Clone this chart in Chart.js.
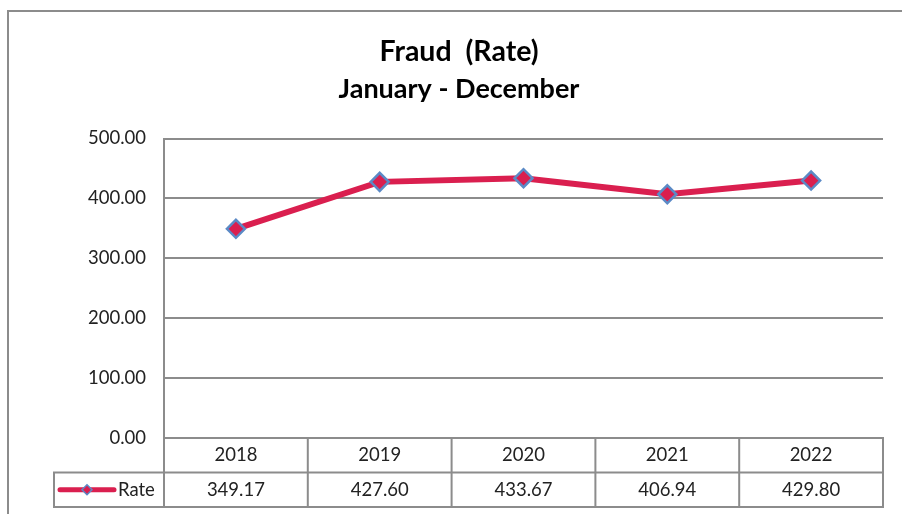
<!DOCTYPE html>
<html>
<head>
<meta charset="utf-8">
<title>Fraud (Rate)</title>
<script src="https://cdn.jsdelivr.net/npm/chart.js@4/dist/chart.umd.min.js"></script>
<style>
  html, body { margin: 0; padding: 0; background: #fff; }
  canvas { display: block; }
</style>
</head>
<body>
<canvas id="fraudChart" width="902" height="514"></canvas>
<script>
// chart data
const years = ['2018', '2019', '2020', '2021', '2022'];
const rates = [349.17, 427.60, 433.67, 406.94, 429.80];
const yTicks = [0, 100, 200, 300, 400, 500];
const seriesName = 'Rate';
const titleText = 'Fraud  (Rate)';
const subtitleText = 'January - December';

// look
const lineColor = '#da1f4f';
const markerBorder = '#5b8ac6';
const gridColor = '#8c8c8c';
const textColor = '#222';
const fontFamily = 'Lato, "Open Sans", sans-serif';

// outer frame like the spreadsheet chart border
const chartFrame = {
  id: 'chartFrame',
  beforeDraw: (chart) => {
    const { ctx } = chart;
    ctx.save();
    ctx.fillStyle = '#fff';
    ctx.fillRect(0, 0, chart.width, chart.height);
    ctx.strokeStyle = gridColor;
    ctx.lineWidth = 2;
    ctx.strokeRect(8, 11, chart.width + 20, chart.height + 20);
    ctx.restore();
  },
};

// data table under the plot (header row = x tick labels)
const dataTable = {
  id: 'dataTable',
  afterDraw: (chart) => {
    const { ctx, chartArea } = chart;
    const x = chart.scales.x;
    const top = chartArea.bottom;
    const rowH = 34.5;
    const legendLeft = 54;
    const colW = (chartArea.right - chartArea.left) / years.length;

    ctx.save();
    ctx.strokeStyle = gridColor;
    ctx.lineWidth = 2;
    ctx.beginPath();
    // row lines
    ctx.moveTo(legendLeft, top + rowH);
    ctx.lineTo(chartArea.right, top + rowH);
    ctx.moveTo(legendLeft, top + rowH * 2);
    ctx.lineTo(chartArea.right, top + rowH * 2);
    // column lines
    for (let i = 0; i <= years.length; i++) {
      const cx = chartArea.left + colW * i;
      ctx.moveTo(cx, top - 1);
      ctx.lineTo(cx, top + rowH * 2 + 1);
    }
    ctx.moveTo(legendLeft, top + rowH - 1);
    ctx.lineTo(legendLeft, top + rowH * 2 + 1);
    ctx.stroke();

    // values
    const midY = top + rowH * 1.5;
    ctx.font = `18.5px ${fontFamily}`;
    ctx.fillStyle = textColor;
    ctx.textAlign = 'center';
    ctx.textBaseline = 'middle';
    rates.forEach((v, i) => {
      ctx.fillText(v.toFixed(2), x.getPixelForValue(i), midY);
    });

    // legend key
    ctx.strokeStyle = lineColor;
    ctx.lineWidth = 5;
    ctx.lineCap = 'round';
    ctx.beginPath();
    ctx.moveTo(60, midY);
    ctx.lineTo(114, midY);
    ctx.stroke();
    ctx.beginPath();
    ctx.moveTo(87 - 5, midY);
    ctx.lineTo(87, midY - 5);
    ctx.lineTo(87 + 5, midY);
    ctx.lineTo(87, midY + 5);
    ctx.closePath();
    ctx.fillStyle = lineColor;
    ctx.fill();
    ctx.strokeStyle = markerBorder;
    ctx.lineWidth = 1.5;
    ctx.stroke();

    ctx.fillStyle = textColor;
    ctx.textAlign = 'left';
    ctx.fillText(seriesName, 118, midY);
    ctx.restore();
  },
};

new Chart('fraudChart', {
  type: 'line',
  data: {
    labels: years,
    datasets: [
      {
        label: seriesName,
        data: rates,
        borderColor: lineColor,
        borderWidth: 6,
        backgroundColor: lineColor,
        pointStyle: 'rectRot',
        pointRadius: 9,
        pointBackgroundColor: lineColor,
        pointBorderColor: markerBorder,
        pointBorderWidth: 2.5,
        tension: 0,
        clip: false,
      },
    ],
  },
  options: {
    responsive: false,
    animation: false,
    devicePixelRatio: 1,
    layout: { padding: { left: 35, right: 19, top: 0, bottom: 0 } },
    plugins: {
      legend: { display: false },
      tooltip: { enabled: false },
      title: {
        display: true,
        text: titleText,
        color: '#000',
        font: { family: fontFamily, size: 28.5, weight: 'bold' },
        padding: { top: 35, bottom: 0 },
      },
      subtitle: {
        display: true,
        text: subtitleText,
        color: '#000',
        font: { family: fontFamily, size: 27, weight: 'bold' },
        padding: { top: 3.5, bottom: 33.4 },
      },
    },
    scales: {
      x: {
        type: 'category',
        offset: true,
        grid: { display: false, drawTicks: false },
        border: { display: false },
        ticks: {
          color: textColor,
          font: { family: fontFamily, size: 18.5 },
          padding: 6,
          maxRotation: 0,
        },
        afterFit: (scale) => { scale.height = 76; },
      },
      y: {
        min: 0,
        max: 500,
        grid: { color: gridColor, lineWidth: 2, drawTicks: false },
        border: { display: true, color: gridColor, width: 2 },
        ticks: {
          color: textColor,
          font: { family: fontFamily, size: 18.5 },
          padding: 18,
          callback: (v) => Number(v).toFixed(2),
        },
        afterBuildTicks: (scale) => {
          scale.ticks = yTicks.map((v) => ({ value: v }));
        },
        afterFit: (scale) => { scale.width = 129; },
      },
    },
  },
  plugins: [chartFrame, dataTable],
});
</script>
</body>
</html>
